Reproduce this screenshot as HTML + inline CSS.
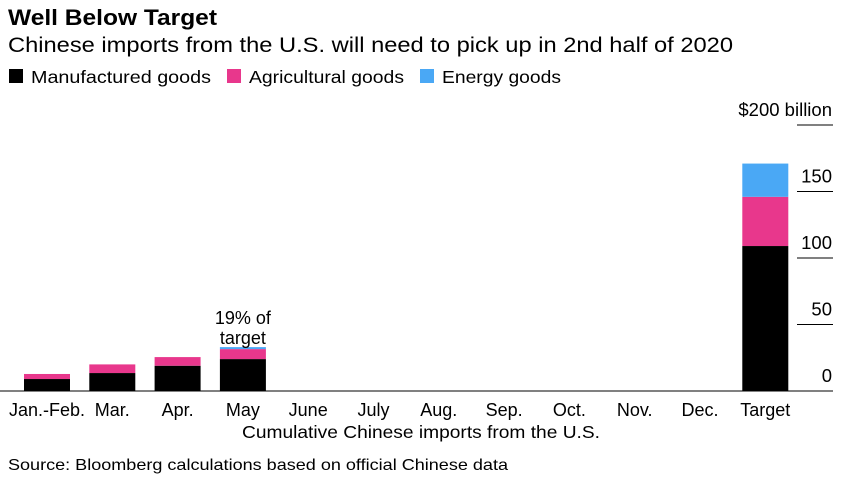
<!DOCTYPE html>
<html><head><meta charset="utf-8"><style>
body{margin:0;background:#fff;font-family:"Liberation Sans",sans-serif;}
svg text{font-family:"Liberation Sans",sans-serif;}
</style></head><body>
<svg width="846" height="480" xmlns="http://www.w3.org/2000/svg">
<text x="8" y="25" font-size="22" font-weight="bold" fill="#000" textLength="209" lengthAdjust="spacingAndGlyphs">Well Below Target</text>
<text x="8" y="52" font-size="21" fill="#000" textLength="725" lengthAdjust="spacingAndGlyphs">Chinese imports from the U.S. will need to pick up in 2nd half of 2020</text>
<g>
<rect x="9" y="69" width="14" height="14" fill="#000"/>
<text x="31" y="83" font-size="17.5" textLength="180" lengthAdjust="spacingAndGlyphs">Manufactured goods</text>
<rect x="227" y="69" width="14" height="14" fill="#e8378c"/>
<text x="249" y="83" font-size="17.5" textLength="155" lengthAdjust="spacingAndGlyphs">Agricultural goods</text>
<rect x="420" y="69" width="14" height="14" fill="#4aa8f5"/>
<text x="442" y="83" font-size="17.5" textLength="119" lengthAdjust="spacingAndGlyphs">Energy goods</text>
</g>
<g id="plot"></g>
<text x="242" y="438" font-size="17.5" textLength="358" lengthAdjust="spacingAndGlyphs">Cumulative Chinese imports from the U.S.</text>
<text x="8" y="470" font-size="16" textLength="500" lengthAdjust="spacingAndGlyphs">Source: Bloomberg calculations based on official Chinese data</text>
</svg>
<script>
const categories=["Jan.-Feb.","Mar.","Apr.","May","June","July","Aug.","Sep.","Oct.","Nov.","Dec.","Target"];
const manufactured=[9,13.5,19,24,null,null,null,null,null,null,null,109];
const agricultural=[3.8,6.5,6.5,7.5,null,null,null,null,null,null,null,37];
const energy=[0,0,0,1.5,null,null,null,null,null,null,null,25];
const ticks=[0,50,100,150,200];
const NS="http://www.w3.org/2000/svg";
const g=document.getElementById('plot');
const y0=391,k=1.33;
const y=v=>y0-v*k;
const xc=i=>47+i*65.3;
const bw=46;
function el(t,a){const e=document.createElementNS(NS,t);for(const n in a)e.setAttribute(n,a[n]);g.appendChild(e);return e;}
ticks.forEach(t=>{
  const l=el('line',{x1:797,x2:833,y1:y(t),y2:y(t),stroke:'#000','stroke-width':1});
  
  
  if(t===0){l.setAttribute('x1',0);}
  const tx=el('text',{x:832,y:y(t)-9,'font-size':18.5,'text-anchor':'end'});
  tx.textContent=t===200?'$200 billion':String(t);
  
  
});
categories.forEach((c,i)=>{
  const tx=el('text',{x:xc(i),y:416,'font-size':18,'text-anchor':'middle'});
  tx.textContent=c;
  
  
  if(manufactured[i]==null)return;
  let base=0;
  [[manufactured,'#000','manufactured'],[agricultural,'#e8378c','agricultural'],[energy,'#4aa8f5','energy']].forEach(([arr,col,nm])=>{
    const v=arr[i];if(!v)return;
    const r=el('rect',{x:xc(i)-bw/2,y:y(base+v),width:bw,height:v*k,fill:col});
    
    
    base+=v;
  });
});
const a1=el('text',{x:xc(3),y:324,'font-size':18,'text-anchor':'middle'});a1.textContent='19% of';


const a2=el('text',{x:xc(3),y:344,'font-size':18,'text-anchor':'middle'});a2.textContent='target';


</script>
</body></html>
